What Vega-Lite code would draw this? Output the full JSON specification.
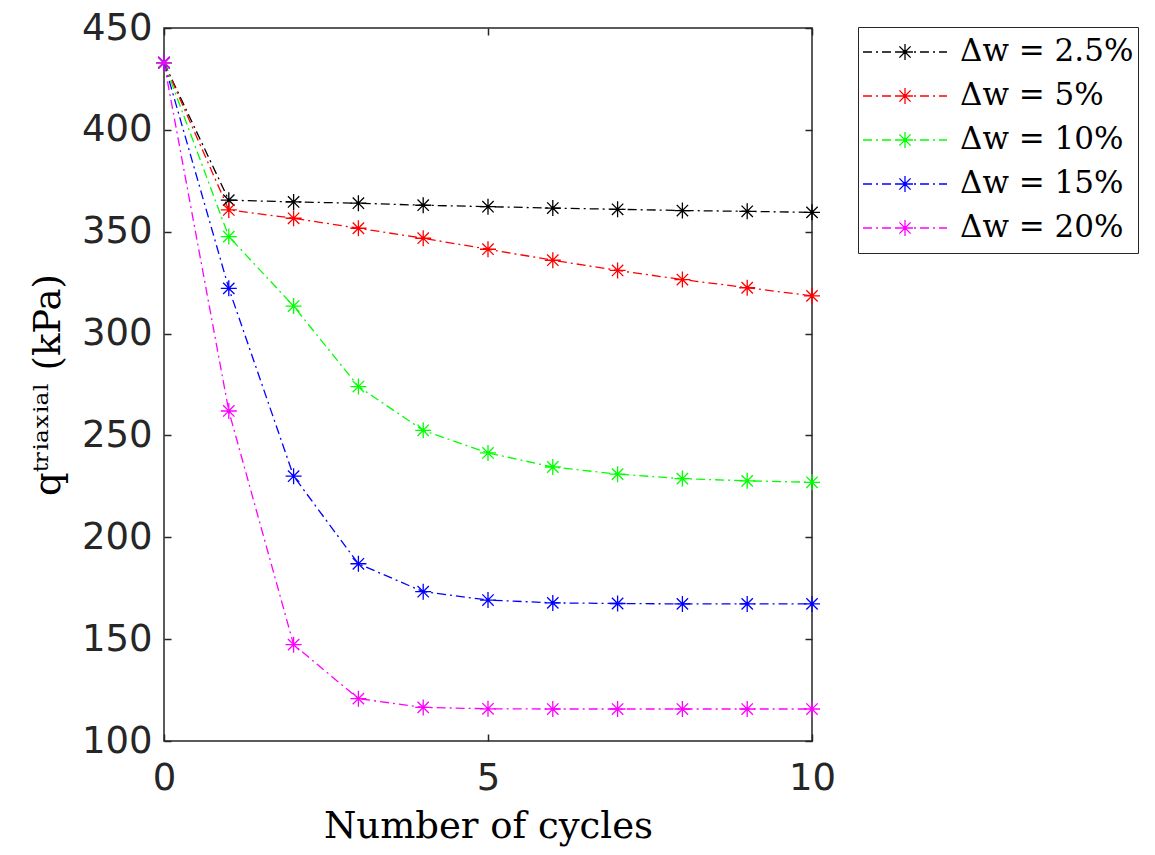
{
  "$schema": "https://vega.github.io/schema/vega-lite/v6.json",
  "width": 648,
  "height": 713,
  "autosize": {"type": "none"},
  "padding": {"left": 164, "top": 28, "right": 343, "bottom": 114},
  "background": "white",
  "config": {
    "view": {"stroke": "#262626", "strokeWidth": 1.5},
    "axis": {
      "grid": false,
      "domain": false,
      "tickSize": -7,
      "tickColor": "#262626",
      "tickWidth": 1.5,
      "labelFont": "DejaVu Sans",
      "labelFontSize": 37,
      "labelColor": "#262626",
      "labelFlush": false,
      "titleFont": "DejaVu Serif",
      "titleFontSize": 37,
      "titleFontWeight": "normal",
      "titleColor": "#000000"
    }
  },
  "data": {
    "values": [
      {"series": "Δw = 2.5%", "cycles": 0, "q": 433},
      {"series": "Δw = 2.5%", "cycles": 1, "q": 365.5},
      {"series": "Δw = 2.5%", "cycles": 2, "q": 364.6},
      {"series": "Δw = 2.5%", "cycles": 3, "q": 364},
      {"series": "Δw = 2.5%", "cycles": 4, "q": 363},
      {"series": "Δw = 2.5%", "cycles": 5, "q": 362.3},
      {"series": "Δw = 2.5%", "cycles": 6, "q": 361.6},
      {"series": "Δw = 2.5%", "cycles": 7, "q": 361},
      {"series": "Δw = 2.5%", "cycles": 8, "q": 360.4},
      {"series": "Δw = 2.5%", "cycles": 9, "q": 360},
      {"series": "Δw = 2.5%", "cycles": 10, "q": 359.5},
      {"series": "Δw = 5%", "cycles": 0, "q": 433},
      {"series": "Δw = 5%", "cycles": 1, "q": 360.7},
      {"series": "Δw = 5%", "cycles": 2, "q": 356.6},
      {"series": "Δw = 5%", "cycles": 3, "q": 351.7},
      {"series": "Δw = 5%", "cycles": 4, "q": 346.8},
      {"series": "Δw = 5%", "cycles": 5, "q": 341.4},
      {"series": "Δw = 5%", "cycles": 6, "q": 336},
      {"series": "Δw = 5%", "cycles": 7, "q": 331},
      {"series": "Δw = 5%", "cycles": 8, "q": 326.5},
      {"series": "Δw = 5%", "cycles": 9, "q": 322.5},
      {"series": "Δw = 5%", "cycles": 10, "q": 318.5},
      {"series": "Δw = 10%", "cycles": 0, "q": 433},
      {"series": "Δw = 10%", "cycles": 1, "q": 347.6},
      {"series": "Δw = 10%", "cycles": 2, "q": 313.5},
      {"series": "Δw = 10%", "cycles": 3, "q": 274},
      {"series": "Δw = 10%", "cycles": 4, "q": 252.5},
      {"series": "Δw = 10%", "cycles": 5, "q": 241.4},
      {"series": "Δw = 10%", "cycles": 6, "q": 234.5},
      {"series": "Δw = 10%", "cycles": 7, "q": 231},
      {"series": "Δw = 10%", "cycles": 8, "q": 228.8},
      {"series": "Δw = 10%", "cycles": 9, "q": 227.7},
      {"series": "Δw = 10%", "cycles": 10, "q": 227},
      {"series": "Δw = 15%", "cycles": 0, "q": 433},
      {"series": "Δw = 15%", "cycles": 1, "q": 322.2},
      {"series": "Δw = 15%", "cycles": 2, "q": 230},
      {"series": "Δw = 15%", "cycles": 3, "q": 187},
      {"series": "Δw = 15%", "cycles": 4, "q": 173.3},
      {"series": "Δw = 15%", "cycles": 5, "q": 169.2},
      {"series": "Δw = 15%", "cycles": 6, "q": 167.8},
      {"series": "Δw = 15%", "cycles": 7, "q": 167.5},
      {"series": "Δw = 15%", "cycles": 8, "q": 167.3},
      {"series": "Δw = 15%", "cycles": 9, "q": 167.3},
      {"series": "Δw = 15%", "cycles": 10, "q": 167.3},
      {"series": "Δw = 20%", "cycles": 0, "q": 433},
      {"series": "Δw = 20%", "cycles": 1, "q": 262},
      {"series": "Δw = 20%", "cycles": 2, "q": 147.3},
      {"series": "Δw = 20%", "cycles": 3, "q": 120.8},
      {"series": "Δw = 20%", "cycles": 4, "q": 116.5},
      {"series": "Δw = 20%", "cycles": 5, "q": 115.8},
      {"series": "Δw = 20%", "cycles": 6, "q": 115.7},
      {"series": "Δw = 20%", "cycles": 7, "q": 115.7},
      {"series": "Δw = 20%", "cycles": 8, "q": 115.7},
      {"series": "Δw = 20%", "cycles": 9, "q": 115.7},
      {"series": "Δw = 20%", "cycles": 10, "q": 115.7}
    ]
  },
  "layer": [
    {
      "mark": {"type": "line", "strokeWidth": 1.3, "strokeDash": [9, 4, 2, 4], "clip": true},
      "encoding": {
        "x": {
          "field": "cycles", "type": "quantitative",
          "scale": {"domain": [0, 10], "nice": false, "zero": false},
          "axis": {"orient": "bottom", "values": [0, 5, 10], "title": "Number of cycles", "labelPadding": 26, "titlePadding": 12}
        },
        "y": {
          "field": "q", "type": "quantitative",
          "scale": {"domain": [100, 450], "nice": false, "zero": false},
          "axis": {"orient": "left", "values": [100, 150, 200, 250, 300, 350, 400, 450], "title": "qᵗʳⁱᵃˣⁱᵃˡ (kPa)", "labelPadding": 19, "titlePadding": 14}
        },
        "color": {
          "field": "series", "type": "nominal",
          "scale": {
            "domain": ["Δw = 2.5%", "Δw = 5%", "Δw = 10%", "Δw = 15%", "Δw = 20%"],
            "range": ["#000000", "#ff0000", "#00ff00", "#0000ff", "#ff00ff"]
          },
          "legend": {
            "title": null,
            "orient": "none",
            "legendX": 694,
            "legendY": -1,
            "padding": 4,
            "strokeColor": "#262626",
            "fillColor": "white",
            "symbolType": "M-1,0L-0.786,0M-0.69,0L-0.643,0M-0.548,0L-0.333,0M-0.238,0L-0.19,0M-0.095,0L0.119,0M0.214,0L0.262,0M0.357,0L0.571,0M0.667,0L0.714,0M0.81,0L1,0M0,0L0.19,0M0,0L-0.19,0M0,0L0,0.19M0,0L0,-0.19M0,0L0.134,0.134M0,0L-0.134,-0.134M0,0L0.134,-0.134M0,0L-0.134,0.134",
            "symbolSize": 7056,
            "symbolStrokeWidth": 1.3,
            "symbolFillColor": "transparent",
            "clipHeight": 42,
            "rowPadding": 2,
            "labelOffset": 12,
            "labelFont": "DejaVu Serif",
            "labelFontSize": 31,
            "labelColor": "#000000",
            "labelLimit": 300
          }
        }
      }
    },
    {
      "mark": {"type": "point", "shape": "M-1,0L1,0M0,-1L0,1M-0.71,-0.71L0.71,0.71M-0.71,0.71L0.71,-0.71", "size": 256, "filled": false, "strokeWidth": 1.3, "opacity": 1},
      "encoding": {
        "x": {
          "field": "cycles", "type": "quantitative",
          "axis": {"orient": "top", "values": [0, 5, 10], "labels": false, "title": null}
        },
        "y": {
          "field": "q", "type": "quantitative",
          "axis": {"orient": "right", "values": [100, 150, 200, 250, 300, 350, 400, 450], "labels": false, "title": null}
        },
        "color": {"field": "series", "type": "nominal"}
      }
    }
  ],
  "resolve": {"axis": {"x": "independent", "y": "independent"}}
}
